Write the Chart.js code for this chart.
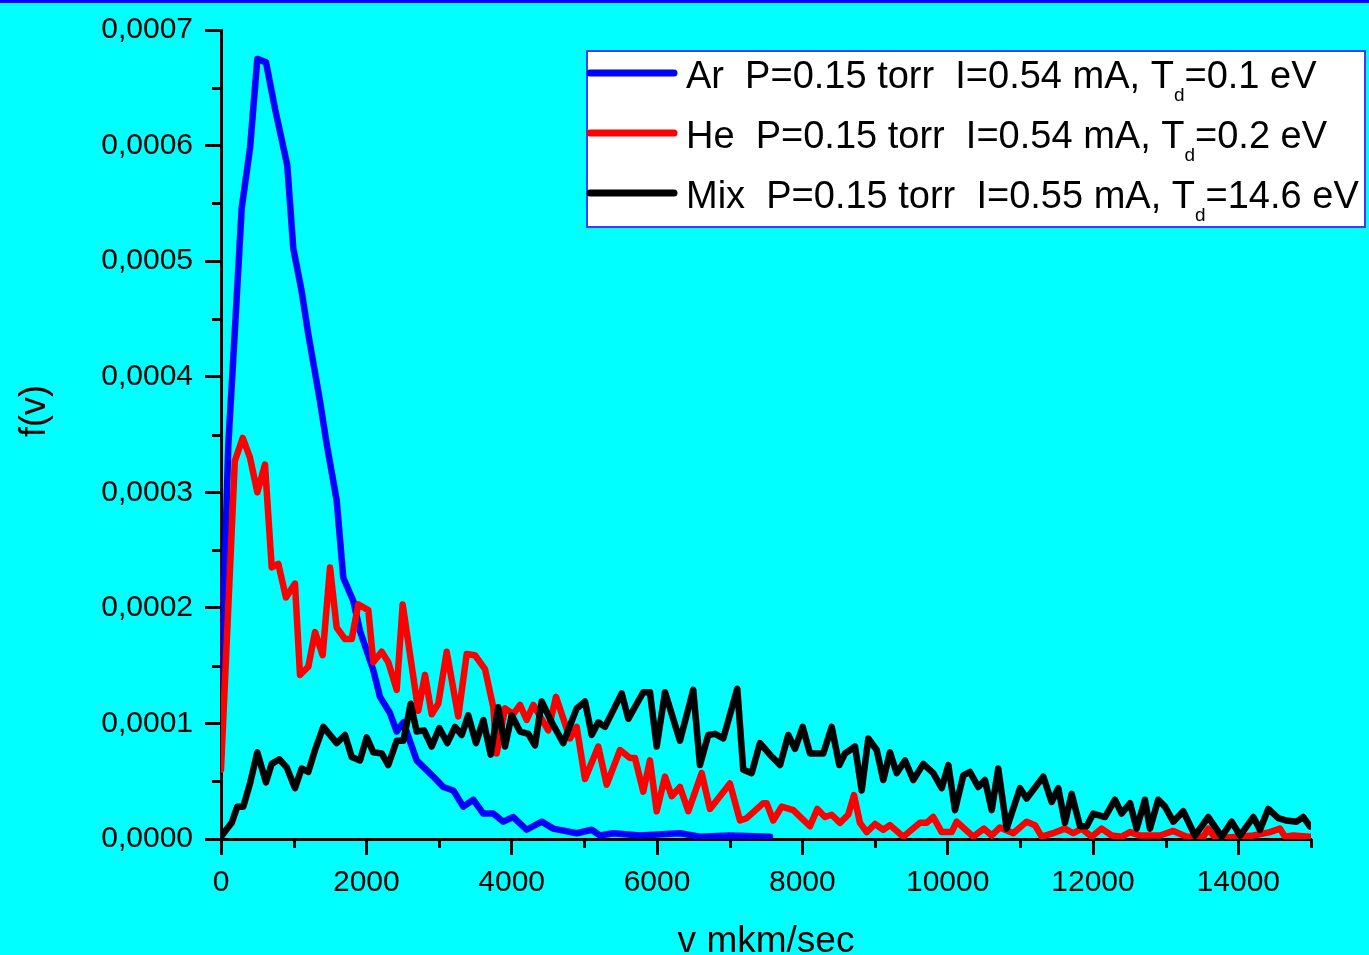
<!DOCTYPE html>
<html>
<head>
<meta charset="utf-8">
<title>f(v)</title>
<script src="https://cdn.jsdelivr.net/npm/chart.js@4.4.0/dist/chart.umd.min.js"></script>
<style>
    html, body { margin: 0; padding: 0; background: #00ffff; overflow: hidden; }
    #wrap { width: 1369px; height: 955px; }
</style>
</head>
<body>
<div id="wrap"><canvas id="fvChart" width="1369" height="955"></canvas></div>
<script>
// Ar
const arX = [0, 100, 200, 285, 400, 500, 620, 743, 912, 995,
    1110, 1201, 1362, 1454, 1592, 1683, 1821, 1913, 2096, 2188,
    2325, 2418, 2509, 2693, 2921, 3059, 3197, 3334, 3472, 3609,
    3747, 3885, 4022, 4206, 4413, 4573, 4895, 5101, 5215, 5398,
    5766, 6316, 6591, 7000, 7555];
const arY = [0.000126, 0.000340, 0.000450, 0.000546, 0.000598, 0.000675, 0.000672, 0.000632, 0.000583, 0.000511,
    0.000474, 0.000437, 0.000379, 0.000342, 0.000293, 0.000226, 0.000206, 0.000180, 0.000146, 0.000123,
    0.000109, 0.000093, 0.000101, 0.000068, 0.000054, 0.000045, 0.000042, 0.000028, 0.000034, 0.000022,
    0.000022, 0.000015, 0.000019, 0.000008, 0.000015, 0.000009, 0.000005, 0.000008, 0.000003, 0.000005,
    0.000003, 0.000005, 0.000002, 0.000003, 0.000002];

// He
const heX = [0, 100, 190, 299, 399, 500, 605, 698, 789, 894,
    1018, 1087, 1201, 1294, 1399, 1500, 1592, 1706, 1799, 1889,
    2027, 2096, 2211, 2302, 2418, 2500, 2715, 2807, 2900, 2990,
    3106, 3265, 3381, 3495, 3633, 3747, 3794, 3908, 4022, 4115,
    4207, 4298, 4504, 4610, 4803, 4895, 5009, 5192, 5308, 5491,
    5628, 5697, 5811, 5903, 5996, 6110, 6202, 6316, 6431, 6615,
    6729, 7004, 7142, 7234, 7463, 7509, 7600, 7716, 7875, 8105,
    8206, 8312, 8404, 8518, 8632, 8711, 8793, 8886, 9000, 9114,
    9206, 9389, 9619, 9711, 9802, 9918, 10055, 10124, 10352, 10499,
    10606, 10720, 10903, 11087, 11201, 11294, 11450, 11614, 11729, 11844,
    11982, 12119, 12257, 12395, 12509, 12647, 12922, 13105, 13289, 13518,
    13586, 13655, 13771, 14023, 14206, 14435, 14573, 14642, 14756, 14986];
const heY = [0.000060, 0.000200, 0.000327, 0.000347, 0.000330, 0.000300, 0.000324, 0.000235, 0.000238, 0.000209,
    0.000221, 0.000142, 0.000149, 0.000179, 0.000159, 0.000235, 0.000183, 0.000173, 0.000173, 0.000203,
    0.000198, 0.000153, 0.000162, 0.000153, 0.000129, 0.000203, 0.000111, 0.000142, 0.000108, 0.000117,
    0.000162, 0.000106, 0.000160, 0.000159, 0.000147, 0.000114, 0.000074, 0.000113, 0.000108, 0.000116,
    0.000103, 0.000116, 0.000094, 0.000123, 0.000087, 0.000097, 0.000052, 0.000080, 0.000047, 0.000077,
    0.000070, 0.000070, 0.000041, 0.000068, 0.000024, 0.000054, 0.000037, 0.000045, 0.000024, 0.000057,
    0.000026, 0.000048, 0.000016, 0.000018, 0.000031, 0.000031, 0.000016, 0.000028, 0.000025, 0.000011,
    0.000026, 0.000019, 0.000021, 0.000014, 0.000021, 0.000038, 0.000014, 0.000006, 0.000013, 0.000008,
    0.000012, 0.000002, 0.000014, 0.000014, 0.000019, 0.000006, 0.000006, 0.000015, 0.000002, 0.000009,
    0.000003, 0.000010, 0.000005, 0.000015, 0.000012, 0.000002, 0.000005, 0.000009, 0.000005, 0.000009,
    0.000002, 0.000009, 0.000003, 0.000002, 0.000006, 0.000003, 0.000003, 0.000007, 0.000002, 0.000002,
    0.000009, 0.000003, 0.000001, 0.000002, 0.000003, 0.000006, 0.000009, 0.000002, 0.000003, 0.000002];

// Mix
const mixX = [0, 147, 224, 307, 399, 500, 619, 698, 802, 904,
    1018, 1110, 1201, 1294, 1408, 1592, 1706, 1799, 1913, 2005,
    2096, 2211, 2302, 2418, 2509, 2610, 2693, 2794, 2900, 3004,
    3114, 3220, 3312, 3403, 3509, 3610, 3711, 3816, 3908, 4000,
    4115, 4229, 4321, 4413, 4551, 4710, 4895, 5009, 5101, 5192,
    5284, 5514, 5605, 5811, 5903, 5996, 6110, 6316, 6499, 6591,
    6706, 6798, 6912, 7105, 7187, 7303, 7417, 7555, 7693, 7807,
    7899, 8005, 8105, 8288, 8404, 8509, 8587, 8725, 8817, 8908,
    9023, 9114, 9206, 9298, 9413, 9527, 9664, 9802, 9918, 10009,
    10101, 10215, 10307, 10421, 10513, 10606, 10696, 10812, 10995, 11087,
    11316, 11431, 11522, 11614, 11706, 11821, 11913, 12004, 12165, 12302,
    12394, 12509, 12601, 12715, 12784, 12898, 12991, 13105, 13242, 13403,
    13586, 13771, 13908, 14023, 14206, 14298, 14412, 14550, 14665, 14802,
    14894, 14986];
const mixY = [0.000002, 0.000014, 0.000028, 0.000028, 0.000048, 0.000075, 0.000049, 0.000065, 0.000069, 0.000062,
    0.000044, 0.000061, 0.000058, 0.000077, 0.000097, 0.000083, 0.000090, 0.000071, 0.000068, 0.000088,
    0.000075, 0.000074, 0.000064, 0.000085, 0.000085, 0.000117, 0.000093, 0.000094, 0.000080, 0.000096,
    0.000083, 0.000097, 0.000090, 0.000107, 0.000083, 0.000103, 0.000073, 0.000114, 0.000080, 0.000107,
    0.000093, 0.000091, 0.000081, 0.000119, 0.000101, 0.000083, 0.000113, 0.000119, 0.000090, 0.000101,
    0.000097, 0.000126, 0.000104, 0.000127, 0.000127, 0.000080, 0.000127, 0.000085, 0.000129, 0.000064,
    0.000090, 0.000091, 0.000087, 0.000130, 0.000060, 0.000057, 0.000083, 0.000073, 0.000064, 0.000090,
    0.000078, 0.000097, 0.000074, 0.000074, 0.000097, 0.000064, 0.000074, 0.000080, 0.000042, 0.000087,
    0.000077, 0.000051, 0.000075, 0.000057, 0.000068, 0.000051, 0.000065, 0.000057, 0.000044, 0.000064,
    0.000025, 0.000055, 0.000058, 0.000045, 0.000051, 0.000025, 0.000061, 0.000009, 0.000044, 0.000035,
    0.000054, 0.000032, 0.000044, 0.000014, 0.000039, 0.000011, 0.000011, 0.000022, 0.000019, 0.000034,
    0.000022, 0.000031, 0.000009, 0.000034, 0.000009, 0.000034, 0.000028, 0.000015, 0.000024, 0.000003,
    0.000019, 0.000002, 0.000015, 0.000003, 0.000019, 0.000008, 0.000026, 0.000018, 0.000016, 0.000015,
    0.000019, 0.000011];

const legendLabels = [
    'Ar  P=0.15 torr  I=0.54 mA, T_d=0.1 eV',
    'He  P=0.15 torr  I=0.54 mA, T_d=0.2 eV',
    'Mix  P=0.15 torr  I=0.55 mA, T_d=14.6 eV'
];
const lineColors = ['#0000ff', '#ff0000', '#000000'];

// tick values
const xMajor = [0, 2000, 4000, 6000, 8000, 10000, 12000, 14000];
const xMinor = [1000, 3000, 5000, 7000, 9000, 11000, 13000, 15000];
const yMajor = [0, 0.0001, 0.0002, 0.0003, 0.0004, 0.0005, 0.0006, 0.0007];
const yMinor = [0.00005, 0.00015, 0.00025, 0.00035, 0.00045, 0.00055, 0.00065];

const FONT = "'Liberation Sans', Arial, Helvetica, sans-serif";

function toPoints(xs, ys) {
    return xs.map((x, i) => ({ x: x, y: ys[i] }));
}

function makeSet(i, xs, ys, order) {
    return {
        label: legendLabels[i].replace('_', ''),
        data: toPoints(xs, ys),
        borderColor: lineColors[i],
        backgroundColor: lineColors[i],
        borderWidth: 6.5,
        borderJoinStyle: 'round',
        borderCapStyle: 'round',
        pointRadius: 0,
        tension: 0,
        fill: false,
        order: order
    };
}

// background + blue strip on top
const bgPlugin = {
    id: 'bg',
    beforeDraw(chart) {
        const ctx = chart.ctx;
        ctx.save();
        ctx.fillStyle = '#00ffff';
        ctx.fillRect(0, 0, chart.width, chart.height);
        ctx.fillStyle = '#0000ff';
        ctx.fillRect(0, 0, chart.width, 3);
        ctx.restore();
    }
};

// short ticks that Chart.js has no option for
const minorTicksPlugin = {
    id: 'minorTicks',
    afterDraw(chart) {
        const ctx = chart.ctx;
        const xs = chart.scales.x;
        const ys = chart.scales.y;
        ctx.save();
        ctx.strokeStyle = '#000';
        ctx.lineWidth = 3;
        ctx.beginPath();
        xMinor.forEach(v => {
            const px = Math.round(xs.getPixelForValue(v)) + 0.5;
            ctx.moveTo(px, xs.top);
            ctx.lineTo(px, xs.top + 9);
        });
        yMinor.forEach(v => {
            const py = Math.round(ys.getPixelForValue(v)) + 0.5;
            ctx.moveTo(ys.right - 9, py);
            ctx.lineTo(ys.right, py);
        });
        ctx.stroke();
        ctx.restore();
    }
};

// y title, placed a bit above the middle like the original
const yTitlePlugin = {
    id: 'yTitle',
    afterDraw(chart) {
        const ctx = chart.ctx;
        ctx.save();
        ctx.translate(35, 411);
        ctx.rotate(-Math.PI / 2);
        ctx.fillStyle = '#000';
        ctx.font = '36px ' + FONT;
        ctx.textAlign = 'center';
        ctx.textBaseline = 'middle';
        ctx.fillText('f(v)', 0, 0);
        ctx.restore();
    }
};

// boxed legend with subscript d
const legendPlugin = {
    id: 'boxLegend',
    afterDraw(chart) {
        const ctx = chart.ctx;
        ctx.save();
        ctx.fillStyle = '#ffffff';
        ctx.fillRect(587, 51, 778, 176);
        ctx.strokeStyle = '#3c3cff';
        ctx.lineWidth = 2;
        ctx.strokeRect(587, 51, 778, 176);

        legendLabels.forEach((label, i) => {
            const y = 73 + i * 60;
            ctx.strokeStyle = lineColors[i];
            ctx.lineWidth = 7;
            ctx.lineCap = 'round';
            ctx.beginPath();
            ctx.moveTo(590, y);
            ctx.lineTo(674, y);
            ctx.stroke();

            const parts = label.split('_');
            const sub = parts[1].charAt(0);
            const tail = parts[1].slice(1);
            let x = 686;
            const base = y + 15;
            ctx.fillStyle = '#000';
            ctx.textBaseline = 'alphabetic';
            ctx.textAlign = 'left';
            ctx.font = '38px ' + FONT;
            ctx.fillText(parts[0], x, base);
            x += ctx.measureText(parts[0]).width;
            ctx.font = '19px ' + FONT;
            ctx.fillText(sub, x, base + 13);
            x += ctx.measureText(sub).width;
            ctx.font = '38px ' + FONT;
            ctx.fillText(tail, x, base);
        });
        ctx.restore();
    }
};

function renderChart() {
    const ctx = document.getElementById('fvChart').getContext('2d');

    const axisGrid = {
        display: true,
        drawOnChartArea: false,
        drawTicks: true,
        tickLength: 16,
        tickColor: '#000',
        tickWidth: 3
    };

    new Chart(ctx, {
        type: 'line',
        data: {
            datasets: [
                makeSet(0, arX, arY, 3),
                makeSet(1, heX, heY, 2),
                makeSet(2, mixX, mixY, 1)
            ]
        },
        options: {
            responsive: false,
            animation: false,
            layout: { padding: { top: 28, right: 58, left: 0, bottom: 0 } },
            plugins: {
                legend: { display: false },
                tooltip: { enabled: false }
            },
            scales: {
                x: {
                    type: 'linear',
                    min: 0,
                    max: 15000,
                    border: { display: true, color: '#000', width: 3 },
                    grid: axisGrid,
                    ticks: {
                        autoSkip: false,
                        maxRotation: 0,
                        color: '#000',
                        padding: 10,
                        font: { family: FONT, size: 30 },
                        callback: v => String(v)
                    },
                    afterBuildTicks(scale) {
                        scale.ticks = xMajor.map(v => ({ value: v }));
                    },
                    title: {
                        display: true,
                        text: 'v mkm/sec',
                        color: '#000',
                        font: { family: FONT, size: 37, lineHeight: 1 },
                        padding: { top: 0, bottom: -5 }
                    },
                    afterFit(scale) { scale.height = 116; }
                },
                y: {
                    type: 'linear',
                    min: 0,
                    max: 0.0007,
                    border: { display: true, color: '#000', width: 3 },
                    grid: axisGrid,
                    ticks: {
                        autoSkip: false,
                        color: '#000',
                        padding: 12,
                        font: { family: FONT, size: 30 },
                        callback: v => v.toFixed(4).replace('.', ',')
                    },
                    afterBuildTicks(scale) {
                        scale.ticks = yMajor.map(v => ({ value: v }));
                    },
                    afterFit(scale) { scale.width = 221; }
                }
            }
        },
        plugins: [bgPlugin, minorTicksPlugin, yTitlePlugin, legendPlugin]
    });
}

document.addEventListener('DOMContentLoaded', renderChart);
</script>
</body>
</html>
